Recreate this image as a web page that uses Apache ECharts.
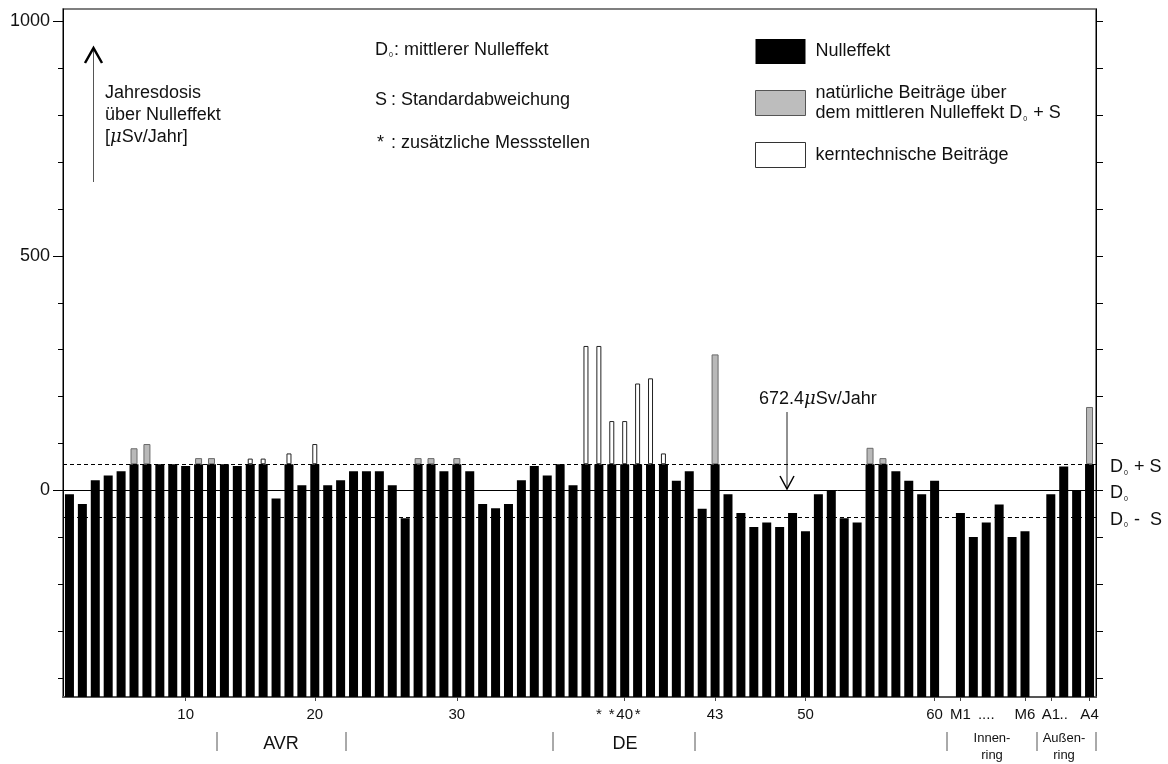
<!DOCTYPE html>
<html><head><meta charset="utf-8">
<script src="https://cdn.jsdelivr.net/npm/echarts/dist/echarts.min.js"></script>
<style>html,body{margin:0;padding:0;background:#fff}#c{width:1168px;height:764px}</style>
</head><body><div id="c"></div>
<script>
// ---------- data ----------
const categories = [
  '', '', '', '', '', '', '', '', '', '10',
  '', '', '', '', '', '', '', '', '', '20',
  '', '', '', '', '', '', '', '', '', '',
  '30', '', '', '', '', '', '', '', '', '',
  '', '*', '*', '40', '*', '', '', '', '', '',
  '43', '', '', '', '', '', '', '50', '', '',
  '', '', '', '', '', '', '', '60', '', 'M1',
  '', '....', '', '', 'M6', '', 'A1', '..', '', 'A4'
];
// top of the black "Nulleffekt" bar (µSv/Jahr above mean background)
const nulleffekt = [
  -8, -29, 22, 32, 41, 56, 56, 56, 56, 52,
  56, 56, 56, 52, 56, 56, -17, 56, 11, 56,
  11, 22, 41, 41, 41, 11, -59, 56, 56, 41,
  56, 41, -29, -38, -29, 22, 52, 32, 56, 11,
  56, 56, 56, 56, 56, 56, 56, 21, 41, -39,
  56, -8, -48, -78, -68, -78, -48, -87, -8, 0,
  -59, -68, 56, 56, 41, 21, -8, 21, null, -48,
  -99, -68, -30, -99, -87, null, -8, 51, 0, 56
];
// top of grey "natürliche Beiträge" part
const natuerlich = [
  null, null, null, null, null, 90, 99, null, null, null,
  69, 69, null, null, null, null, null, null, null, null,
  null, null, null, null, null, null, null, 69, 69, null,
  69, null, null, null, null, null, null, null, null, null,
  null, null, null, null, null, null, null, null, null, null,
  290, null, null, null, null, null, null, null, null, null,
  null, null, 91, 69, null, null, null, null, null, null,
  null, null, null, null, null, null, null, null, null, 178
];
// top of white "kerntechnische Beiträge" part
const kerntechnisch = [
  null, null, null, null, null, null, null, null, null, null,
  null, null, null, null, 68, 68, null, 79, null, 99,
  null, null, null, null, null, null, null, null, null, null,
  null, null, null, null, null, null, null, null, null, null,
  308, 308, 148, 148, 228, 239, 79, null, null, null,
  null, null, null, null, null, null, null, null, null, null,
  null, null, null, null, null, null, null, null, null, null,
  null, null, null, null, null, null, null, null, null, null
];
const D0 = 0;        // mittlerer Nulleffekt
const S = 56;        // Standardabweichung
const yTickValues = [-400, -300, -200, -100, 0, 100, 200, 300, 400, 500, 600, 700, 800, 900, 1000];
const yLabelValues = [0, 500, 1000];
const axisBottom = -440, axisTop = 1026;

// ---------- helpers ----------
const toPlot = v => v - axisBottom;
const SPAN = axisTop - axisBottom;
const FONT = '"Liberation Sans", Arial, Helvetica, sans-serif';
const tickIdx = new Set();
categories.forEach((c, i) => { if (c && !/^[*.]+$/.test(c)) tickIdx.add(i); });

const blackData = nulleffekt.map(v => v == null ? '-' : toPlot(v));
const greyBase = natuerlich.map((v, i) => v == null ? '-' : toPlot(nulleffekt[i]));
const greyData = natuerlich.map((v, i) => v == null ? '-' : v - nulleffekt[i]);
const whiteBase = kerntechnisch.map((v, i) => v == null ? '-' : toPlot(nulleffekt[i]));
const whiteData = kerntechnisch.map((v, i) => v == null ? '-' : v - nulleffekt[i]);

const subRich = {
  d: { fontSize: 18, fontFamily: FONT, color: '#111' },
  s: { fontSize: 7, fontFamily: FONT, color: '#111', verticalAlign: 'bottom', padding: [0, 1, 0, 1] },
  mu: { fontSize: 18, fontFamily: 'DejaVu Serif, serif', fontStyle: 'italic', color: '#111' }
};

const chart = echarts.init(document.getElementById('c'), null, { renderer: 'canvas' });

const option = {
  animation: false,
  backgroundColor: '#fff',
  textStyle: { fontFamily: FONT },
  grid: { left: 63, right: 72, top: 9, bottom: 67, show: true, borderColor: '#555', borderWidth: 1.5, backgroundColor: 'transparent' },
  legend: {
    orient: 'vertical', left: 755, top: 39, padding: 0,
    itemWidth: 50, itemHeight: 25, itemGap: 19, icon: 'rect', selectedMode: false,
    data: [
      { name: 'Nulleffekt', itemStyle: { color: '#000', borderWidth: 0 } },
      { name: 'natürliche Beiträge', itemStyle: { color: '#bdbdbd', borderColor: '#555', borderWidth: 1 } },
      { name: 'kerntechnische Beiträge', itemStyle: { color: '#fff', borderColor: '#333', borderWidth: 1 } }
    ],
    formatter: n => n === 'natürliche Beiträge' ? 'natürliche Beiträge über\ndem mittleren Nulleffekt D{s|0} + S' : n,
    textStyle: { fontSize: 18, fontFamily: FONT, color: '#111', lineHeight: 20, padding: [0, 0, 0, 5], rich: { s: subRich.s } }
  },
  xAxis: [
    {
      type: 'category', data: categories, position: 'bottom',
      axisLine: { onZero: false, lineStyle: { color: '#555', width: 2 } },
      axisTick: { show: true, alignWithLabel: true, interval: (i) => tickIdx.has(i), length: 4, lineStyle: { color: '#444' } },
      axisLabel: { interval: 0, fontSize: 15, color: '#111', margin: 10, fontFamily: FONT },
      splitLine: { show: false }
    },
    { type: 'category', data: categories, show: false },
    { type: 'category', data: categories, show: false }
  ],
  yAxis: [
    {
      type: 'value', position: 'left', min: 0, max: SPAN,
      axisLine: { show: true, lineStyle: { color: '#000', width: 1 } },
      axisTick: { show: true, length: 10, customValues: yLabelValues.map(toPlot), lineStyle: { color: '#000' } },
      axisLabel: { customValues: yLabelValues.map(toPlot), formatter: v => String(Math.round(v + axisBottom)), fontSize: 18, color: '#111', margin: 13, fontFamily: FONT },
      splitLine: { show: false }
    },
    {
      type: 'value', position: 'left', min: 0, max: SPAN,
      axisLine: { show: false },
      axisTick: { show: true, length: 5, customValues: yTickValues.map(toPlot), lineStyle: { color: '#000' } },
      axisLabel: { show: false }, splitLine: { show: false }
    },
    {
      type: 'value', position: 'right', min: 0, max: SPAN,
      axisLine: { show: true, lineStyle: { color: '#000', width: 1 } },
      axisTick: { show: true, length: 7, customValues: yTickValues.map(toPlot), lineStyle: { color: '#000' } },
      axisLabel: { show: false }, splitLine: { show: false }
    }
  ],
  series: [
    {
      name: 'Nulleffekt', type: 'bar', xAxisIndex: 0, yAxisIndex: 0, barWidth: 9,
      itemStyle: { color: '#000' }, data: blackData, silent: true,
      markLine: {
        silent: true, symbol: ['none', 'none'], animation: false,
        label: { position: 'end', distance: 14, offset: [0, 3], fontSize: 18, color: '#111', fontFamily: FONT, rich: subRich },
        data: [
          { yAxis: toPlot(D0), lineStyle: { type: 'solid', color: '#000', width: 1 }, label: { formatter: '{d|D}{s|0}' } },
          { yAxis: toPlot(D0 + S), lineStyle: { type: [4, 3], color: '#000', width: 1 }, label: { formatter: '{d|D}{s|0}{d| + S}' } },
          { yAxis: toPlot(D0 - S), lineStyle: { type: [4, 3], color: '#000', width: 1 }, label: { formatter: '{d|D}{s|0}{d| -  S}' } }
        ]
      }
    },
    {
      name: 'greyBase', type: 'bar', xAxisIndex: 1, yAxisIndex: 0, stack: 'g', barWidth: 7,
      itemStyle: { color: 'rgba(0,0,0,0)' }, data: greyBase, silent: true
    },
    {
      name: 'natürliche Beiträge', type: 'bar', xAxisIndex: 1, yAxisIndex: 0, stack: 'g', barWidth: 7,
      itemStyle: { color: '#b9b9b9', borderColor: '#6a6a6a', borderWidth: 1 }, data: greyData, silent: true
    },
    {
      name: 'whiteBase', type: 'bar', xAxisIndex: 2, yAxisIndex: 0, stack: 'w', barWidth: 5,
      itemStyle: { color: 'rgba(0,0,0,0)' }, data: whiteBase, silent: true
    },
    {
      name: 'kerntechnische Beiträge', type: 'bar', xAxisIndex: 2, yAxisIndex: 0, stack: 'w', barWidth: 5,
      itemStyle: { color: '#fff', borderColor: '#222', borderWidth: 1 }, data: whiteData, silent: true
    }
  ],
  graphic: [
    // y-axis annotation arrow
    { type: 'line', silent: true, shape: { x1: 93.5, y1: 49, x2: 93.5, y2: 182 }, style: { stroke: '#555', lineWidth: 1 } },
    { type: 'polyline', silent: true, shape: { points: [[85, 63], [93.5, 48], [102, 63]] }, style: { stroke: '#000', lineWidth: 2.5, fill: null } },
    { type: 'text', silent: true, x: 105, y: 115,
      style: { text: 'Jahresdosis\nüber Nulleffekt\n[{mu|μ}Sv/Jahr]', font: '18px ' + FONT, fill: '#111', lineHeight: 22, verticalAlign: 'middle', textVerticalAlign: 'middle', rich: { mu: subRich.mu } } },
    // key texts
    { type: 'text', silent: true, x: 375, y: 50,
      style: { text: '{d|D}{s|0}{d|: mittlerer Nulleffekt}', font: '18px ' + FONT, fill: '#111', verticalAlign: 'middle', textVerticalAlign: 'middle', rich: subRich } },
    { type: 'text', silent: true, x: 375, y: 100, style: { text: 'S', font: '18px ' + FONT, fill: '#111', verticalAlign: 'middle', textVerticalAlign: 'middle' } },
    { type: 'text', silent: true, x: 391, y: 100, style: { text: ': Standardabweichung', font: '18px ' + FONT, fill: '#111', verticalAlign: 'middle', textVerticalAlign: 'middle' } },
    { type: 'text', silent: true, x: 377, y: 143, style: { text: '*', font: '18px ' + FONT, fill: '#111', verticalAlign: 'middle', textVerticalAlign: 'middle' } },
    { type: 'text', silent: true, x: 391, y: 143, style: { text: ': zusätzliche Messstellen', font: '18px ' + FONT, fill: '#111', verticalAlign: 'middle', textVerticalAlign: 'middle' } },
    // absolute value annotation
    { type: 'text', silent: true, x: 759, y: 399,
      style: { text: '672.4{mu|μ}Sv/Jahr', font: '18px ' + FONT, fill: '#111', verticalAlign: 'middle', textVerticalAlign: 'middle', rich: { mu: subRich.mu } } },
    { type: 'line', silent: true, shape: { x1: 787, y1: 412, x2: 787, y2: 489 }, style: { stroke: '#222', lineWidth: 1 } },
    { type: 'polyline', silent: true, shape: { points: [[780, 476], [787, 489], [794, 476]] }, style: { stroke: '#000', lineWidth: 1.5, fill: null } },
    // group separators
    ...[217, 346, 553, 695, 947, 1037, 1096].map(x => ({ type: 'line', silent: true, shape: { x1: x, y1: 732, x2: x, y2: 751 }, style: { stroke: '#555', lineWidth: 1 } })),
    { type: 'text', silent: true, x: 281, y: 744, style: { text: 'AVR', font: '18px ' + FONT, fill: '#111', align: 'center', textAlign: 'center', verticalAlign: 'middle', textVerticalAlign: 'middle' } },
    { type: 'text', silent: true, x: 625, y: 744, style: { text: 'DE', font: '18px ' + FONT, fill: '#111', align: 'center', textAlign: 'center', verticalAlign: 'middle', textVerticalAlign: 'middle' } },
    { type: 'text', silent: true, x: 992, y: 747, style: { text: 'Innen-\nring', font: '13px ' + FONT, fill: '#111', lineHeight: 17, align: 'center', textAlign: 'center', verticalAlign: 'middle', textVerticalAlign: 'middle' } },
    { type: 'text', silent: true, x: 1064, y: 747, style: { text: 'Außen-\nring', font: '13px ' + FONT, fill: '#111', lineHeight: 17, align: 'center', textAlign: 'center', verticalAlign: 'middle', textVerticalAlign: 'middle' } }
  ]
};
chart.setOption(option);
</script></body></html>
